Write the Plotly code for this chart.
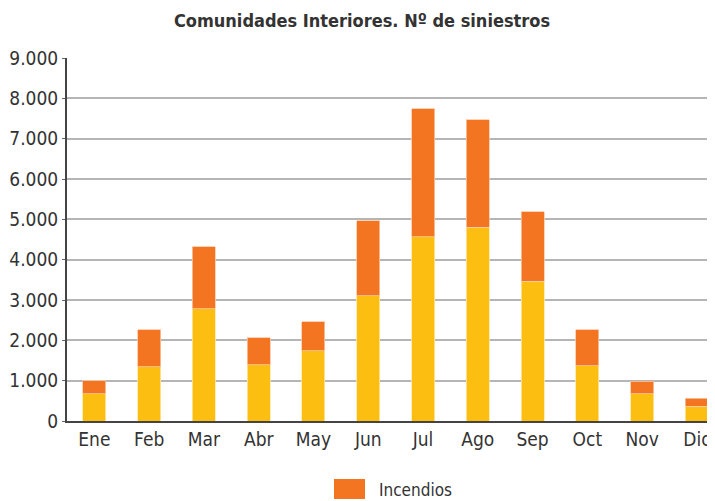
import plotly.graph_objects as go

months = ["Ene", "Feb", "Mar", "Abr", "May", "Jun", "Jul", "Ago", "Sep", "Oct", "Nov", "Dic"]
conatos = [670, 1340, 2780, 1390, 1740, 3100, 4570, 4810, 3470, 1370, 670, 370]
totales = [1000, 2260, 4320, 2060, 2460, 4960, 7740, 7470, 5190, 2260, 990, 570]
incendios = [t - c for t, c in zip(totales, conatos)]

FONT = "DejaVu Sans Condensed, Liberation Sans Narrow, sans-serif"
TXT = "#333333"
YELLOW = "#FDBE12"
ORANGE = "#F47521"

fig = go.Figure()
fig.add_trace(go.Bar(x=months, y=conatos, name="Conatos", marker_color=YELLOW,
                     marker_line=dict(color="#FFE9A8", width=0.8), showlegend=False, width=0.42))
fig.add_trace(go.Bar(x=months, y=incendios, name="Incendios", marker_color=ORANGE,
                     marker_line=dict(color="#FBC7A6", width=0.8), showlegend=False, width=0.42))

# page body has an 8px margin, so the figure is 8px smaller than the window
OFF = 8
W, H = 715 - OFF, 501 - OFF
L, R, T, B = 67 - OFF, 0, 58 - OFF, 501 - 421
pw, ph = W - L - R, H - T - B

def sx(px):  # screen px -> paper x
    return (px - OFF - L) / pw

def sy(py):  # screen px -> paper y
    return (H - B - (py - OFF)) / ph

# custom legend (large swatch as in the reference)
fig.add_shape(type="rect", xref="paper", yref="paper",
              x0=sx(334), x1=sx(365), y0=sy(499), y1=sy(479),
              fillcolor=ORANGE, line=dict(width=0))
fig.add_annotation(text="Incendios", xref="paper", yref="paper",
                   x=sx(377), y=sy(490), xanchor="left", yanchor="middle",
                   showarrow=False, font=dict(family=FONT, size=17, color=TXT))

fig.update_layout(
    barmode="stack",
    width=W, height=H,
    margin=dict(l=L, r=R, t=T, b=B),
    paper_bgcolor="white", plot_bgcolor="white",
    separators=",.",
    font=dict(family=FONT, size=19, color=TXT),
    title=dict(text="<b>Comunidades Interiores. Nº de siniestros</b>", x=(362 - OFF) / W, xanchor="center",
               y=1 - (21 - OFF) / H, yanchor="middle", yref="container",
               font=dict(family=FONT, size=18, color=TXT)),
    showlegend=False,
)
fig.update_xaxes(range=[-0.5, 11.33], showline=True, linecolor="#444444", linewidth=2,
                 ticks="", automargin=False, tickfont=dict(family=FONT, size=19, color=TXT))
fig.update_yaxes(range=[0, 9000], dtick=1000, tickformat=",d", showline=True, linecolor="#444444",
                 linewidth=2, showgrid=True, gridcolor="#b5b5b5", gridwidth=1.5,
                 ticks="outside", ticklen=3, tickcolor="#666666", zeroline=False, automargin=False,
                 tickfont=dict(family=FONT, size=19, color=TXT))

fig.write_html("out.html")
